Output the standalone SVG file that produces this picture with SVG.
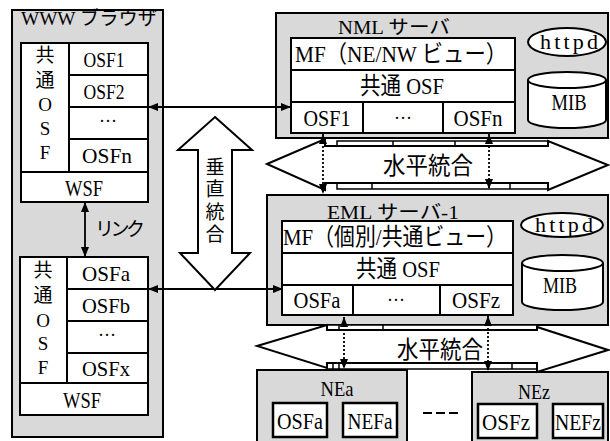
<svg xmlns="http://www.w3.org/2000/svg" width="610" height="441" viewBox="0 0 610 441">
<style>
text{font-family:"Liberation Serif","Noto Sans CJK JP",serif;fill:#000;dominant-baseline:central;text-anchor:middle}
.t{font-size:18px}
.s{font-size:19px}
.b{font-size:21px}
.L{font-size:24px}
.h{font-size:22px}
.outer{fill:#d9d9d9;stroke:#000;stroke-width:2}
.inner{fill:#fff;stroke:#000;stroke-width:2}
.ln{stroke:#000;stroke-width:2;fill:none}
.nebox{fill:#fff;stroke:#000;stroke-width:2.5}
.conn{stroke:#000;stroke-width:1.8;fill:none}
.dot{stroke:#000;stroke-width:1.8;fill:none;stroke-dasharray:2 2}
.blk{fill:#fff;stroke:#000;stroke-width:2;stroke-linejoin:miter}
.tab{fill:#fff;stroke:#000;stroke-width:1.5}
</style>
<defs>
<marker id="ah" viewBox="0 0 10 8" refX="10" refY="4" markerWidth="10" markerHeight="8" markerUnits="userSpaceOnUse" orient="auto-start-reverse">
<path d="M0,0 L10,4 L0,8 z" fill="#000"/>
</marker>
</defs>

<g id="browser">
<rect class="outer" x="12" y="10" width="151" height="427"/>
<text class="s" x="89" y="18" textLength="136" lengthAdjust="spacingAndGlyphs">WWW ブラウザ</text>
</g>

<g id="browser-upper">
<rect class="inner" x="21" y="43" width="127" height="159"/>
<path class="ln" d="M69,43 V172 M69,75 H148 M69,107 H148 M69,139 H148 M21,172 H148"/>
<text class="s" x="45" y="55">共</text>
<text class="s" x="45" y="80">通</text>
<text class="s" x="45" y="104">O</text>
<text class="s" x="45" y="128">S</text>
<text class="s" x="45" y="152">F</text>
<text class="b" x="104" y="60" textLength="41" lengthAdjust="spacingAndGlyphs">OSF1</text>
<text class="b" x="104" y="92" textLength="41" lengthAdjust="spacingAndGlyphs">OSF2</text>
<text class="t" x="108" y="121">···</text>
<text class="b" x="107" y="156" textLength="50" lengthAdjust="spacingAndGlyphs">OSFn</text>
<text class="L" x="84" y="188" textLength="38" lengthAdjust="spacingAndGlyphs">WSF</text>
</g>

<g id="browser-lower">
<rect class="inner" x="20" y="257" width="128" height="158"/>
<path class="ln" d="M67,257 V383 M67,289 H148 M67,321 H148 M67,353 H148 M20,383 H148"/>
<text class="s" x="43" y="270">共</text>
<text class="s" x="43" y="295">通</text>
<text class="s" x="43" y="320">O</text>
<text class="s" x="43" y="343">S</text>
<text class="s" x="43" y="367">F</text>
<text class="b" x="106" y="274" textLength="48" lengthAdjust="spacingAndGlyphs">OSFa</text>
<text class="b" x="106" y="306" textLength="48" lengthAdjust="spacingAndGlyphs">OSFb</text>
<text class="t" x="107" y="335">···</text>
<text class="b" x="106" y="369" textLength="48" lengthAdjust="spacingAndGlyphs">OSFx</text>
<text class="L" x="82" y="400" textLength="38" lengthAdjust="spacingAndGlyphs">WSF</text>
</g>

<g id="nml">
<rect class="outer" x="276" y="13" width="332" height="125"/>
<text class="s" x="394" y="27" textLength="112" lengthAdjust="spacingAndGlyphs">NML サーバ</text>
<rect class="inner" x="291" y="38" width="224" height="95"/>
<path class="ln" d="M291,70 H515 M291,102 H515 M363,102 V133 M443,102 V133"/>
<text class="L" x="401" y="54" textLength="212" lengthAdjust="spacingAndGlyphs">MF（NE/NW ビュー）</text>
<text class="L" x="402" y="86" textLength="84" lengthAdjust="spacingAndGlyphs">共通 OSF</text>
<text class="L" x="327" y="118" textLength="47" lengthAdjust="spacingAndGlyphs">OSF1</text>
<text class="t" x="403" y="118">···</text>
<text class="L" x="478" y="118" textLength="49" lengthAdjust="spacingAndGlyphs">OSFn</text>
<ellipse class="inner" cx="567" cy="42" rx="39" ry="14"/>
<text class="h" x="569" y="41" textLength="58" lengthAdjust="spacing">httpd</text>
<path class="inner" d="M528,80 A39,8 0 0 1 606,80 V120 A39,8 0 0 1 528,120 Z"/>
<path class="ln" d="M528,80 A39,8 0 0 0 606,80"/>
<text class="L" x="569" y="102" textLength="35" lengthAdjust="spacingAndGlyphs">MIB</text>
</g>

<g id="eml">
<rect class="outer" x="267" y="195" width="341" height="130"/>
<text class="s" x="393" y="212" textLength="132" lengthAdjust="spacingAndGlyphs">EML サーバ-1</text>
<rect class="inner" x="282" y="221" width="231" height="94"/>
<path class="ln" d="M282,253 H513 M282,285 H513 M353,285 V315 M440,285 V315"/>
<text class="L" x="395" y="237" textLength="224" lengthAdjust="spacingAndGlyphs">MF（個別/共通ビュー）</text>
<text class="L" x="398" y="269" textLength="84" lengthAdjust="spacingAndGlyphs">共通 OSF</text>
<text class="L" x="317" y="300" textLength="47" lengthAdjust="spacingAndGlyphs">OSFa</text>
<text class="t" x="396" y="300">···</text>
<text class="L" x="476" y="300" textLength="48" lengthAdjust="spacingAndGlyphs">OSFz</text>
<ellipse class="inner" cx="562" cy="225" rx="41" ry="12"/>
<text class="h" x="564" y="224" textLength="58" lengthAdjust="spacing">httpd</text>
<path class="inner" d="M522,263 A40.5,8 0 0 1 603,263 V302 A40.5,8 0 0 1 522,302 Z"/>
<path class="ln" d="M522,263 A40.5,8 0 0 0 603,263"/>
<text class="L" x="560" y="285" textLength="34" lengthAdjust="spacingAndGlyphs">MIB</text>
</g>

<g id="nea">
<rect class="outer" x="257" y="370" width="150" height="75"/>
<text class="b" x="337" y="389" textLength="33" lengthAdjust="spacingAndGlyphs">NEa</text>
<rect class="nebox" x="273" y="403" width="54" height="34"/>
<text class="L" x="300" y="421" textLength="46" lengthAdjust="spacingAndGlyphs">OSFa</text>
<rect class="nebox" x="343" y="403" width="54" height="34"/>
<text class="L" x="370" y="421" textLength="45" lengthAdjust="spacingAndGlyphs">NEFa</text>
</g>

<g id="nez">
<rect class="outer" x="472" y="372" width="136" height="75"/>
<text class="b" x="534" y="392" textLength="32" lengthAdjust="spacingAndGlyphs">NEz</text>
<rect class="nebox" x="478" y="404" width="59" height="34"/>
<text class="L" x="506" y="422" textLength="48" lengthAdjust="spacingAndGlyphs">OSFz</text>
<rect class="nebox" x="553" y="404" width="50" height="34"/>
<text class="L" x="578" y="422" textLength="46" lengthAdjust="spacingAndGlyphs">NEFz</text>
</g>

<g id="connectors">
<line class="conn" x1="148" y1="107" x2="291" y2="107" marker-start="url(#ah)" marker-end="url(#ah)"/>
<line class="conn" x1="148" y1="289" x2="283" y2="289" marker-start="url(#ah)" marker-end="url(#ah)"/>
<line class="conn" x1="85" y1="202" x2="85" y2="257" marker-start="url(#ah)" marker-end="url(#ah)"/>
<text class="s" x="120" y="229" textLength="50" lengthAdjust="spacing">リンク</text>

<g id="vertical-integration">
<polygon class="blk" points="215,117 252,150 232,150 232,253 250,253 215,290 180,253 198,253 198,150 178,150"/>
<text class="s" x="215" y="167">垂</text>
<text class="s" x="215" y="189.5">直</text>
<text class="s" x="215" y="212">統</text>
<text class="s" x="215" y="234.5">合</text>
</g>

<g id="horizontal-integration-upper">
<rect class="tab" x="337" y="141" width="211" height="5"/>
<rect class="tab" x="337" y="183" width="211" height="6"/>
<path class="ln" d="M393,141 V146 M372,183 V189 M455,141 V146 M510,183 V189" style="stroke-width:1.5"/>
<polygon class="blk" points="267,164 325,139 325,146 548,146 548,141 608,165 548,190 548,183 325,183 325,190"/>
<text class="L" x="428" y="166" textLength="90" lengthAdjust="spacingAndGlyphs">水平統合</text>
</g>

<g id="horizontal-integration-lower">
<rect class="tab" x="327" y="325" width="210" height="5"/>
<rect class="tab" x="327" y="363" width="210" height="6"/>
<path class="ln" d="M339,325 V330 M383,325 V330 M333,363 V369 M339,363 V369 M512,363 V369" style="stroke-width:1.5"/>
<polygon class="blk" points="257,346 327,325 327,330 537,330 537,327 608,350 537,372 537,363 327,363 327,368"/>
<text class="L" x="440" y="350" textLength="86" lengthAdjust="spacingAndGlyphs">水平統合</text>
</g>

<line class="dot" x1="323" y1="134" x2="323" y2="194" marker-start="url(#ah)" marker-end="url(#ah)"/>
<line class="dot" x1="489" y1="134" x2="489" y2="189" marker-start="url(#ah)" marker-end="url(#ah)"/>
<line class="dot" x1="344" y1="317" x2="344" y2="369" marker-start="url(#ah)" marker-end="url(#ah)"/>
<line class="dot" x1="488" y1="316" x2="488" y2="371" marker-start="url(#ah)" marker-end="url(#ah)"/>
<line x1="423" y1="413" x2="458" y2="413" stroke="#000" stroke-width="2" stroke-dasharray="9 4"/>
</g>
</svg>
